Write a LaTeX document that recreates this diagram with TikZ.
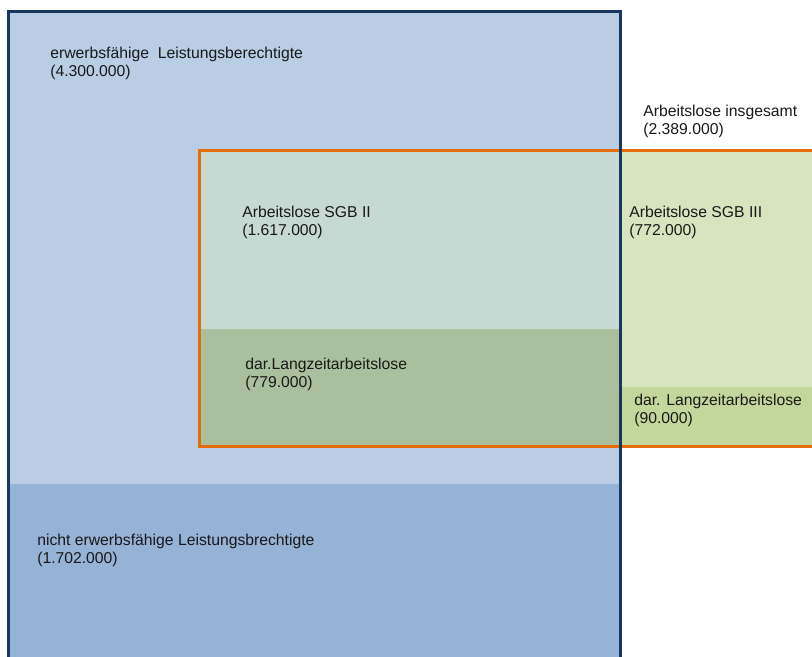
\documentclass[tikz,border=0pt]{standalone}
\usepackage{fontspec}
\setmainfont{Liberation Sans}
\definecolor{lblue}{HTML}{B9CDE5}
\definecolor{dblue}{HTML}{95B3D7}
\definecolor{navy}{HTML}{17375E}
\definecolor{orng}{HTML}{E46C0A}
\definecolor{sgbII}{HTML}{C6D9D2}
\definecolor{ltzII}{HTML}{AABF9D}
\definecolor{sgbIII}{HTML}{D7E4BD}
\definecolor{ltzIII}{HTML}{C3D69B}
\begin{document}
\begin{tikzpicture}[x=0.75pt,y=-0.75pt,
  lbl/.style={anchor=west, align=left, inner sep=0pt,
    font=\fontsize{11.8}{13.5}\selectfont, text=black!90}]
\useasboundingbox (0,0) rectangle (812,656);
\clip (0,0) rectangle (812,656);
% regions
\fill[lblue] (8,11) rectangle (620,484);
\fill[dblue] (8,484) rectangle (620,670);
\fill[sgbII] (199,150) rectangle (620,329);
\fill[ltzII] (199,329) rectangle (620,446);
\fill[sgbIII] (620,150) rectangle (820,387);
\fill[ltzIII] (620,387) rectangle (820,446);
% frames
\draw[orng, line width=2.25pt] (199,150) rectangle (830,446);
\draw[navy, line width=2.25pt] (8.5,11.5) rectangle (620,690);
% labels
\node[lbl] (ewl) at (50,63) {erwerbsfähige~ Leistungsberechtigte\\(4.300.000)};
\node[lbl] (ai) at (643,121) {Arbeitslose insgesamt\\(2.389.000)};
\node[lbl] (s2) at (242,222) {Arbeitslose SGB II\\(1.617.000)};
\node[lbl] (s3) at (629,222) {Arbeitslose SGB III\\(772.000)};
\node[lbl] (l2) at (245,374.5) {dar.Langzeitarbeitslose\\(779.000)};
\node[lbl] (l3) at (634,410.5) {dar. Langzeitarbeitslose\\(90.000)};
\node[lbl] (ne) at (37,550) {nicht erwerbsfähige Leistungsbrechtigte\\(1.702.000)};
\end{tikzpicture}
\end{document}
